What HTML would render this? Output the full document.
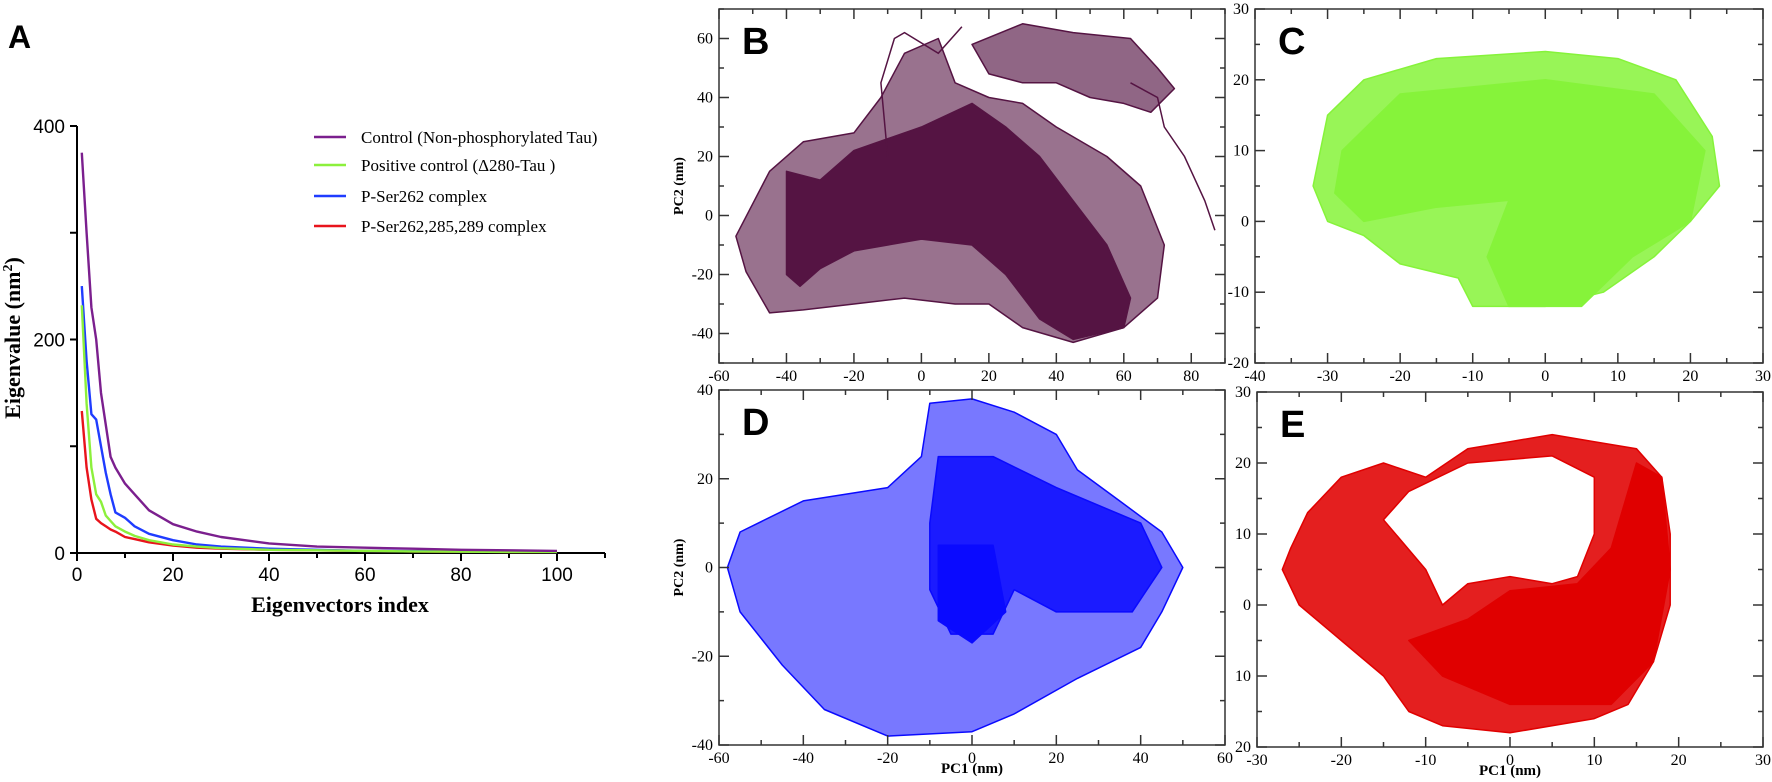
<!DOCTYPE html>
<html><head><meta charset="utf-8"><style>
html,body{margin:0;padding:0;background:#fff;}
svg{display:block;}
</style></head><body>
<svg id="fig" xmlns="http://www.w3.org/2000/svg" width="1772" height="782" viewBox="0 0 1772 782">
<rect width="1772" height="782" fill="#fff"/>
</svg>
<script>
// ---------- Panel A data ----------
const eigIndex   = [1,2,3,4,5,6,7,8,10,12,15,20,25,30,40,50,60,70,80,90,100];
const ctrlVals   = [375,300,230,200,150,120,90,80,65,55,40,27,20,15,9,6,5,4,3,2.5,2];
const posVals    = [232,140,80,55,48,35,30,25,20,16,12,8,6,4.5,3,2.5,2,1.5,1.2,1,1];
const ser262Vals = [250,180,130,125,100,75,55,38,33,25,18,12,8,6,4,3,2,1.8,1.5,1.2,1];
const triVals    = [133,80,50,32,28,25,22,20,15,13,10,7,5,4,3,2.5,2,1.5,1.2,1,1];
const seriesNames = ["Control (Non-phosphorylated Tau)","Positive control (\u0394280-Tau )","P-Ser262 complex","P-Ser262,285,289 complex"];
const xTicksA = [0,20,40,60,80,100];
const yTicksA = [0,200,400];

// ---------- Panel B ----------
const bMedium = [[-55,-7],[-45,15],[-35,25],[-20,28],[-12,40],[-5,55],[5,60],[10,45],[20,40],[30,38],[40,30],[55,20],[65,10],[72,-10],[70,-28],[60,-38],[45,-43],[30,-38],[20,-30],[10,-30],[-5,-28],[-20,-30],[-35,-32],[-45,-33],[-52,-19]];
const bTop    = [[15,58],[30,65],[45,62],[62,60],[70,50],[75,43],[68,35],[60,38],[50,40],[40,45],[30,45],[20,48]];
const bDense  = [[-40,15],[-30,12],[-20,22],[0,30],[15,38],[25,30],[35,20],[45,5],[55,-10],[62,-28],[60,-38],[45,-42],[35,-35],[25,-20],[15,-10],[0,-8],[-20,-12],[-30,-18],[-36,-24],[-40,-20]];
const bTrail  = [[62,45],[70,40],[72,30],[78,20],[80,15],[84,5],[87,-5]];
const bSpike  = [[-10,20],[-12,45],[-8,60],[-5,62],[5,55],[12,64]];

// ---------- Panel C ----------
const cOuter = [[-32,5],[-30,15],[-25,20],[-15,23],[0,24],[10,23],[18,20],[23,12],[24,5],[20,0],[15,-5],[8,-10],[0,-12],[-10,-12],[-12,-8],[-20,-6],[-25,-2],[-30,0]];
const cDense = [[-28,10],[-20,18],[0,20],[15,18],[22,10],[20,0],[12,-5],[5,-12],[-5,-12],[-8,-5],[-5,3],[-15,2],[-25,0],[-29,4]];

// ---------- Panel D ----------
const dOuter = [[-58,0],[-55,8],[-40,15],[-20,18],[-12,25],[-10,37],[0,38],[10,35],[20,30],[25,22],[35,15],[45,8],[50,0],[45,-10],[40,-18],[25,-25],[10,-33],[0,-37],[-20,-38],[-35,-32],[-45,-22],[-55,-10]];
const dCore  = [[-8,25],[5,25],[20,18],[40,10],[45,0],[38,-10],[20,-10],[10,-5],[5,-15],[-5,-15],[-10,-5],[-10,10]];
const dDense = [[-8,5],[5,5],[8,-10],[0,-17],[-8,-12]];

// ---------- Panel E ----------
const eOuter = [[-26,8],[-24,13],[-20,18],[-15,20],[-10,18],[-5,22],[0,23],[5,24],[10,23],[15,22],[18,18],[19,10],[19,0],[17,-8],[14,-14],[10,-16],[0,-18],[-8,-17],[-12,-15],[-15,-10],[-20,-5],[-25,0],[-27,5]];
const eHole  = [[-15,12],[-12,16],[-5,20],[5,21],[10,18],[10,10],[8,4],[5,3],[0,4],[-5,3],[-8,0],[-10,5]];
const eDense = [[-5,-2],[0,2],[8,3],[12,8],[15,20],[18,18],[19,5],[17,-8],[12,-14],[0,-14],[-8,-10],[-12,-5]];

const NS="http://www.w3.org/2000/svg";
const svg=document.getElementById('fig');
function mk(tag,attrs,parent){const e=document.createElementNS(NS,tag);for(const k in attrs)e.setAttribute(k,attrs[k]);(parent||svg).appendChild(e);return e;}
function txt(s,attrs,parent){const e=mk('text',attrs,parent);e.textContent=s;return e;}

// ===== Panel A =====
const A={x0:77,x1:605,y0:553,y1:126,xmin:0,xmax:110,ymin:0,ymax:400};
const ax=v=>A.x0+(v-A.xmin)/(100-A.xmin)*(557-77);
const ay=v=>A.y0-(v-A.ymin)/(A.ymax-A.ymin)*(A.y0-A.y1);
const gA=mk('g',{});


const la=txt('A',{x:8,y:48,'font-family':'Liberation Sans, sans-serif','font-weight':'bold','font-size':32},gA);


const yAxA=mk('line',{x1:A.x0,y1:A.y0,x2:A.x0,y2:ay(400),stroke:'#000','stroke-width':2},gA);


const xAxA=mk('line',{x1:A.x0,y1:A.y0,x2:A.x1,y2:A.y0,stroke:'#000','stroke-width':2},gA);


for(let v=0;v<=400;v+=100){mk('line',{x1:A.x0-7,y1:ay(v),x2:A.x0,y2:ay(v),stroke:'#000','stroke-width':2},gA);}
yTicksA.forEach(v=>{const t=txt(String(v),{x:A.x0-12,y:ay(v)+7,'text-anchor':'end','font-family':'Liberation Sans, sans-serif','font-size':19},gA);

});
for(let v=0;v<=110;v+=10){mk('line',{x1:ax(v),y1:A.y0,x2:ax(v),y2:A.y0+(v%20==0?8:5),stroke:'#000','stroke-width':2},gA);}
xTicksA.forEach(v=>{const t=txt(String(v),{x:ax(v),y:581,'text-anchor':'middle','font-family':'Liberation Sans, sans-serif','font-size':19},gA);

});
const xt=txt('Eigenvectors index',{x:340,y:612,'text-anchor':'middle','font-family':'Liberation Serif, serif','font-weight':'bold','font-size':22},gA);


const yt=txt('',{x:0,y:0,transform:'translate(20,338) rotate(-90)','text-anchor':'middle','font-family':'Liberation Serif, serif','font-weight':'bold','font-size':22},gA);
yt.innerHTML='Eigenvalue (nm<tspan dy="-8" font-size="14">2</tspan><tspan dy="8">)</tspan>';


const colorsA=['#7b1f8e','#8cf03c','#1f3cff','#e8141c'];
const seriesA=[ctrlVals,posVals,ser262Vals,triVals];
const snames=['series-control','series-positive-control','series-p-ser262','series-p-ser262-285-289'];
[3,2,1,0].forEach(i=>{const d=eigIndex.map((x,j)=>(j?'L':'M')+ax(x).toFixed(1)+','+ay(seriesA[i][j]).toFixed(1)).join('');
const p=mk('path',{d,fill:'none',stroke:colorsA[i],'stroke-width':2.4,'stroke-linejoin':'round'},gA);

});
const legY=[137,165,196,226];
seriesNames.forEach((n,i)=>{const g=mk('g',{},gA);


mk('line',{x1:314,y1:legY[i],x2:346,y2:legY[i],stroke:colorsA[i],'stroke-width':2.6},g);
txt(n,{x:361,y:legY[i]+6,'font-family':'Liberation Serif, serif','font-size':17},g);});

// ===== scatter panels =====
const isMult=(v,m)=>Math.abs(v/m-Math.round(v/m))<1e-6;
function panel(cfg){
 const g=mk('g',{});
 
 
 const sx=v=>cfg.x0+(v-cfg.xmin)/(cfg.xmax-cfg.xmin)*(cfg.x1-cfg.x0);
 const sy=v=>cfg.y1-(v-cfg.ymin)/(cfg.ymax-cfg.ymin)*(cfg.y1-cfg.y0);
 const poly=pts=>pts.map((p,j)=>(j?'L':'M')+sx(p[0]).toFixed(1)+','+sy(p[1]).toFixed(1)).join('')+'Z';
 const line=pts=>pts.map((p,j)=>(j?'L':'M')+sx(p[0]).toFixed(1)+','+sy(p[1]).toFixed(1)).join('');
 cfg.draw(g,poly,line,sx,sy);
 const fr=mk('rect',{x:cfg.x0,y:cfg.y0,width:cfg.x1-cfg.x0,height:cfg.y1-cfg.y0,fill:'none',stroke:'#333','stroke-width':1.5},g);
 
 
 for(let v=cfg.xmin;v<=cfg.xmax+1e-9;v+=cfg.xminor){const maj=isMult(v,cfg.xmajor);const L=maj?10:5;
  mk('line',{x1:sx(v),y1:cfg.y1,x2:sx(v),y2:cfg.y1-L,stroke:'#333','stroke-width':1.5},g);
  mk('line',{x1:sx(v),y1:cfg.y0,x2:sx(v),y2:cfg.y0+L,stroke:'#333','stroke-width':1.5},g);
  if(maj){const t=txt(String(v),{x:sx(v),y:cfg.y1+18,'text-anchor':'middle','font-family':'Liberation Serif, serif','font-size':16},g);
   
   }}
 for(let v=cfg.ymin;v<=cfg.ymax+1e-9;v+=cfg.yminor){const maj=isMult(v,cfg.ymajor);const L=maj?10:5;
  mk('line',{x1:cfg.x0,y1:sy(v),x2:cfg.x0+L,y2:sy(v),stroke:'#333','stroke-width':1.5},g);
  mk('line',{x1:cfg.x1,y1:sy(v),x2:cfg.x1-L,y2:sy(v),stroke:'#333','stroke-width':1.5},g);
  if(maj){const lab=cfg.ylab?cfg.ylab(v):String(v);const t=txt(lab,{x:cfg.x0-6,y:sy(v)+5,'text-anchor':'end','font-family':'Liberation Serif, serif','font-size':16},g);
   
   }}
 const L=txt(cfg.letter,{x:cfg.x0+23,y:cfg.y0+45,'font-family':'Liberation Sans, sans-serif','font-weight':'bold','font-size':38},g);
 
 
 if(cfg.yt){const t=txt('PC2 (nm)',{x:0,y:0,transform:`translate(${cfg.x0-36},${(cfg.y0+cfg.y1)/2}) rotate(-90)`,'text-anchor':'middle','font-family':'Liberation Serif, serif','font-weight':'bold','font-size':14},g);
  
  }
 if(cfg.xt){const t=txt('PC1 (nm)',{x:(cfg.x0+cfg.x1)/2,y:cfg.y1+28,'text-anchor':'middle','font-family':'Liberation Serif, serif','font-weight':'bold','font-size':15},g);
  
  }
}
function region(g,d,fill,op,name,rule){const p=mk('path',{d,fill,'fill-opacity':op,stroke:fill,'stroke-width':1.5,'stroke-linejoin':'round','fill-rule':rule||'nonzero'},g);
 
 return p;}

panel({name:'panel-b',letter:'B',x0:719,x1:1225,y0:9,y1:363,xmin:-60,xmax:90,ymin:-50,ymax:70,xmajor:20,xminor:10,ymajor:20,yminor:10,yt:true,
 draw:(g,poly,line)=>{const c='#551443';
  region(g,poly(bMedium),c,0.6,'trajectory-sparse');
  region(g,poly(bTop),c,0.65,'trajectory-top-cluster');
  region(g,poly(bDense),c,1,'trajectory-dense');
  const t=mk('path',{d:line(bTrail),fill:'none',stroke:c,'stroke-width':1.5},g);
  
  
  const s=mk('path',{d:line(bSpike),fill:'none',stroke:c,'stroke-width':1.5},g);
  
  }});
panel({name:'panel-c',letter:'C',x0:1255,x1:1763,y0:9,y1:363,xmin:-40,xmax:30,ymin:-20,ymax:30,xmajor:10,xminor:5,ymajor:10,yminor:5,
 draw:(g,poly)=>{const c='#86f33a';
  region(g,poly(cOuter),c,0.85,'trajectory-sparse');
  region(g,poly(cDense),c,1,'trajectory-dense');}});
panel({name:'panel-d',letter:'D',x0:719,x1:1225,y0:390,y1:745,xmin:-60,xmax:60,ymin:-40,ymax:40,xmajor:20,xminor:10,ymajor:20,yminor:10,yt:true,xt:true,
 draw:(g,poly)=>{const c='#0a0aff';
  region(g,poly(dOuter),c,0.55,'trajectory-sparse');
  region(g,poly(dCore),c,0.85,'trajectory-core');
  region(g,poly(dDense),c,1,'trajectory-dense');}});
panel({name:'panel-e',letter:'E',x0:1257,x1:1763,y0:392,y1:747,xmin:-30,xmax:30,ymin:-20,ymax:30,xmajor:10,xminor:5,ymajor:10,yminor:5,xt:true,
 ylab:v=>String(Math.abs(v)),
 draw:(g,poly)=>{const c='#e00000';
  region(g,poly(eOuter)+poly(eHole),c,0.88,'trajectory-ring','evenodd');
  region(g,poly(eDense),c,1,'trajectory-dense');}});
</script>
</body></html>
